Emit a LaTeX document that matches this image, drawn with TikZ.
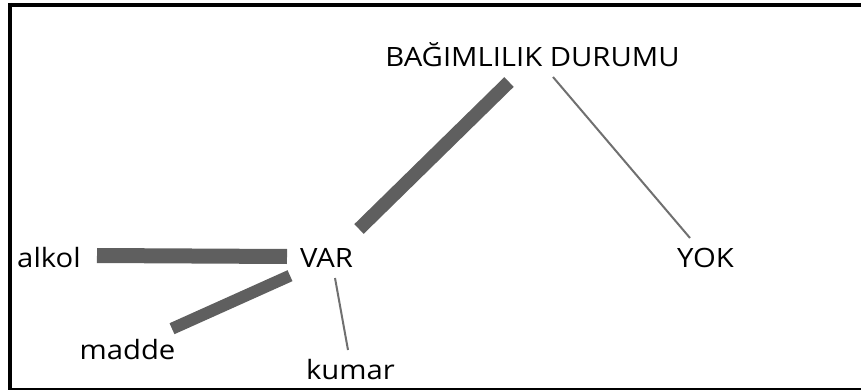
\documentclass[tikz,border=0pt]{standalone}
\usepackage{fontspec}
\setmainfont[FakeStretch=1.1]{Open Sans}
\definecolor{bargray}{HTML}{5F5F5F}
\definecolor{linegray}{HTML}{707070}
\begin{document}
\begin{tikzpicture}[x=1pt,y=-1pt,
  lbl/.style={anchor=base,inner sep=0pt,font=\fontsize{26.6}{30}\selectfont,text=black},
  thickbar/.style={draw=bargray,line width=13.5pt,line cap=butt},
  thinbar/.style={draw=linegray,line width=2pt,line cap=butt},
  frameline/.style={draw=black,line cap=butt}]
\useasboundingbox (0,0) rectangle (861,390);
% frame
\coordinate (fTL) at (10,3);
\coordinate (fBL) at (10,390);
\coordinate (tL) at (8,5);
\coordinate (tR) at (861,5);
\coordinate (bL) at (10,389);
\coordinate (bR) at (861,389);
\draw[frameline,line width=4pt] (fTL) -- (fBL);
\draw[frameline,line width=4pt] (tL) -- (tR);
\draw[frameline,line width=1.5pt] (bL) -- (bR);
% labels
\node[lbl] (root) at (532.5,67) {BAĞIMLILIK DURUMU};
\node[lbl] (var) at (326.5,267) {VAR};
\node[lbl] (yok) at (705.5,267) {YOK};
\node[lbl] (alkol) at (49,267) {alkol};
\node[lbl] (madde) at (127.5,359) {madde};
\node[lbl] (kumar) at (350.5,379) {kumar};
% connector end points
\coordinate (rootA) at (509,82);
\coordinate (varA) at (359,229);
\coordinate (rootB) at (553,77);
\coordinate (yokA) at (690,238);
\coordinate (alkolA) at (97,255.5);
\coordinate (varB) at (287,256.5);
\coordinate (maddeA) at (172,328.7);
\coordinate (varC) at (290,275.7);
\coordinate (varD) at (335,278);
\coordinate (kumarA) at (348,350);
% connectors
\draw[thickbar] (rootA) -- (varA);
\draw[thinbar] (rootB) -- (yokA);
\draw[thickbar,line width=15pt] (alkolA) -- (varB);
\draw[thickbar,line width=12pt] (maddeA) -- (varC);
\draw[thinbar] (varD) -- (kumarA);
\end{tikzpicture}
\end{document}
